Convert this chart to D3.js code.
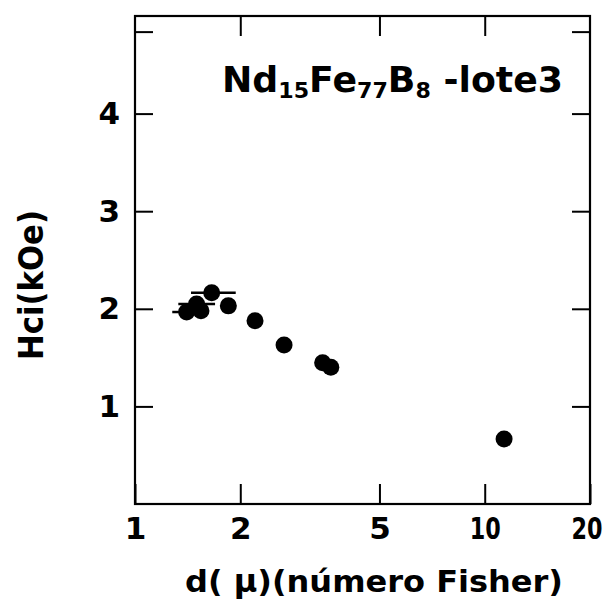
<!DOCTYPE html>
<html>
<head>
<meta charset="utf-8">
<script src="https://cdn.jsdelivr.net/npm/d3@7"></script>
<style>
  body { margin: 0; background: #fff; }
  text { font-family: 'DejaVu Sans', sans-serif; font-weight: bold; fill: #000; }
</style>
</head>
<body>
<div id="container"></div>
<script>
// grain size (Fisher number, microns) vs. coercivity Hci (kOe)
const diam = [1.657, 1.50, 1.405, 1.544, 1.849, 2.204, 2.668, 3.44, 3.63, 11.36];
const hci = [2.165, 2.05, 1.967, 1.98, 2.03, 1.878, 1.629, 1.448, 1.40, 0.666];
// horizontal error bars on the first three points
const errLow = [1.446, 1.33, 1.278];
const errHigh = [1.941, 1.694, 1.545];

const xTicks = [1, 2, 5, 10, 20];
const xTickLabels = ['1', '2', '5', '10', '20'];
const yTicks = [1, 2, 3, 4];
const yMinorTicks = [4.84];

const W = 606, H = 599;
const mLeft = 135, mRight = 590, mTop = 16, mBottom = 504;

const svg = d3.select('#container')
    .append('svg')
    .attr('width', W)
    .attr('height', H);

const x = d3.scaleLog().domain([1, 20]).range([mLeft, mRight]);
const y = d3.scaleLinear().domain([0, 5]).range([mBottom, mTop]);

const tickLen = 20;

// bottom axis with labels, ticks pointing inward
const xAxis = svg.append('g')
    .attr('transform', `translate(0,${mBottom})`)
    .call(d3.axisBottom(x).tickValues(xTicks)
        .tickFormat((d, i) => xTickLabels[i])
        .tickSizeInner(-tickLen).tickSizeOuter(0).tickPadding(13));
xAxis.select('.domain').remove();
xAxis.selectAll('.tick line').attr('stroke', '#000').attr('stroke-width', 2);
xAxis.selectAll('.tick text')
    .attr('font-size', 31)
    .attr('fill', '#000')
    .each(function (d, i) {
        // two-digit labels are narrow in the original
        if (xTickLabels[i].length > 1) {
            d3.select(this).attr('transform', 'scale(0.72,1)');
        }
        // last label sits against the window edge
        if (d === 20) {
            d3.select(this).attr('text-anchor', 'end').attr('transform', 'translate(12,0) scale(0.72,1)');
        }
    });

// top axis, no labels
const xTop = svg.append('g')
    .attr('transform', `translate(0,${mTop})`)
    .call(d3.axisTop(x).tickValues([2, 5, 10]).tickFormat('')
        .tickSizeInner(-tickLen).tickSizeOuter(0));
xTop.select('.domain').remove();
xTop.selectAll('.tick line').attr('stroke', '#000').attr('stroke-width', 2);

// left axis
const yAxis = svg.append('g')
    .attr('transform', `translate(${mLeft},0)`)
    .call(d3.axisLeft(y).tickValues(yTicks.concat(yMinorTicks))
        .tickFormat(d => yTicks.includes(d) ? d : '')
        .tickSizeInner(-18).tickSizeOuter(0).tickPadding(15));
yAxis.select('.domain').remove();
yAxis.selectAll('.tick line').attr('stroke', '#000').attr('stroke-width', 2);
yAxis.selectAll('.tick text').attr('font-size', 31).attr('fill', '#000');

// right axis
const yRight = svg.append('g')
    .attr('transform', `translate(${mRight},0)`)
    .call(d3.axisRight(y).tickValues(yTicks.concat(yMinorTicks)).tickFormat('')
        .tickSizeInner(-18).tickSizeOuter(0));
yRight.select('.domain').remove();
yRight.selectAll('.tick line').attr('stroke', '#000').attr('stroke-width', 2);

// frame
svg.append('rect')
    .attr('x', mLeft)
    .attr('y', mTop)
    .attr('width', mRight - mLeft)
    .attr('height', mBottom - mTop)
    .attr('fill', 'none')
    .attr('stroke', '#000')
    .attr('stroke-width', 2.2);

// error bars
svg.append('g')
    .selectAll('line')
    .data(errLow)
    .enter()
    .append('line')
    .attr('x1', (d, i) => x(d))
    .attr('x2', (d, i) => x(errHigh[i]))
    .attr('y1', (d, i) => y(hci[i]))
    .attr('y2', (d, i) => y(hci[i]))
    .attr('stroke', '#000')
    .attr('stroke-width', 2.5);

// points
svg.append('g')
    .selectAll('circle')
    .data(diam)
    .enter()
    .append('circle')
    .attr('cx', d => x(d))
    .attr('cy', (d, i) => y(hci[i]))
    .attr('r', 8.5)
    .attr('fill', '#000');

// title inside the plot
const title = svg.append('text')
    .attr('x', 222)
    .attr('y', 92)
    .attr('font-size', 36)
    .attr('textLength', 341)
    .attr('lengthAdjust', 'spacingAndGlyphs');
title.append('tspan').text('Nd');
title.append('tspan').attr('font-size', 22).attr('dy', 6).text('15');
title.append('tspan').attr('dy', -6).text('Fe');
title.append('tspan').attr('font-size', 22).attr('dy', 6).text('77');
title.append('tspan').attr('dy', -6).text('B');
title.append('tspan').attr('font-size', 22).attr('dy', 6).text('8');
title.append('tspan').attr('dy', -6).text(' -lote3');

// axis titles
svg.append('text')
    .attr('x', 374)
    .attr('y', 592)
    .attr('text-anchor', 'middle')
    .attr('font-size', 31)
    .attr('textLength', 378)
    .attr('lengthAdjust', 'spacingAndGlyphs')
    .text('d( μ)(número Fisher)');

svg.append('text')
    .attr('transform', 'translate(43,285) rotate(-90)')
    .attr('text-anchor', 'middle')
    .attr('font-size', 34)
    .attr('textLength', 150)
    .attr('lengthAdjust', 'spacingAndGlyphs')
    .text('Hci(kOe)');
</script>
</body>
</html>
